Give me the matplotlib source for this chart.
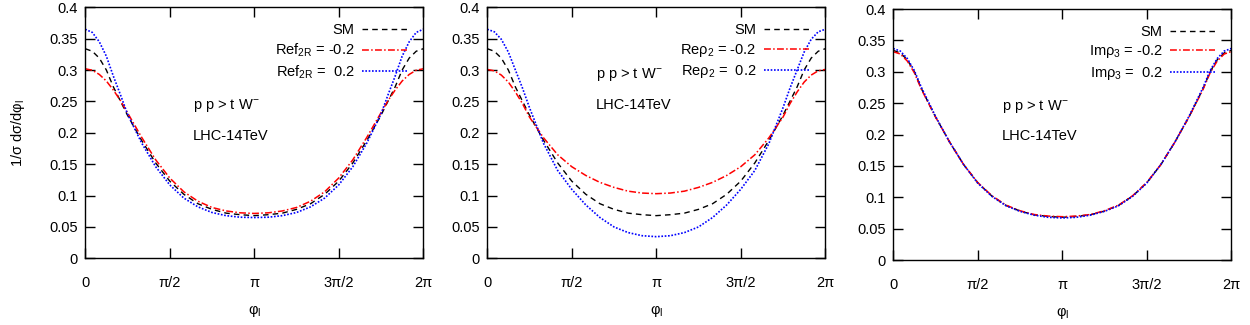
import matplotlib
matplotlib.use('Agg')
import matplotlib.pyplot as plt
import numpy as np

plt.rcParams['font.family'] = ['Liberation Sans', 'DejaVu Sans']
plt.rcParams['mathtext.fontset'] = 'custom'
plt.rcParams['mathtext.rm'] = 'Liberation Sans'
plt.rcParams['mathtext.it'] = 'Liberation Sans'
plt.rcParams['mathtext.sf'] = 'Liberation Sans'
plt.rcParams['mathtext.bf'] = 'Liberation Sans:bold'

FS = 10.5

# azimuthal angle of the lepton in units of pi/12 (finer near the edges)
phi_k = [0, 0.5, 1, 1.5, 2, 2.5, 3, 4, 5, 6, 7, 8, 9, 10, 11, 12,
         13, 14, 15, 16, 17, 18, 19, 20, 21, 21.5, 22, 22.5, 23, 23.5, 24]
phi = np.array(phi_k) * np.pi / 12

# SM curve (same in all three panels)
sm = [0.334, 0.330, 0.319, 0.300, 0.273, 0.2505, 0.228, 0.188, 0.152, 0.123, 0.102, 0.087, 0.078, 0.072, 0.0695, 0.068,
      0.0695, 0.072, 0.078, 0.087, 0.102, 0.123, 0.152, 0.188, 0.228, 0.2505, 0.273, 0.300, 0.319, 0.330, 0.334]

# panel 1: Ref_2R = -0.2 / 0.2
f2r_neg = [0.302, 0.2998, 0.293, 0.2825, 0.268, 0.2514, 0.232, 0.193, 0.157, 0.128, 0.106, 0.091, 0.081, 0.0755, 0.0725, 0.0715,
           0.0725, 0.0755, 0.081, 0.091, 0.106, 0.128, 0.157, 0.193, 0.232, 0.2514, 0.268, 0.2825, 0.293, 0.2998, 0.302]
f2r_pos = [0.365, 0.360, 0.345, 0.322, 0.290, 0.2606, 0.230, 0.184, 0.146, 0.117, 0.096, 0.082, 0.073, 0.068, 0.0655, 0.065,
           0.0655, 0.068, 0.073, 0.082, 0.096, 0.117, 0.146, 0.184, 0.230, 0.2606, 0.290, 0.322, 0.345, 0.360, 0.365]

# panel 2: Re rho_2 = -0.2 / 0.2
rho2_neg = [0.301, 0.2988, 0.292, 0.2808, 0.265, 0.2466, 0.225, 0.192, 0.165, 0.146, 0.132, 0.121, 0.113, 0.107, 0.104, 0.103,
            0.104, 0.107, 0.113, 0.121, 0.132, 0.146, 0.165, 0.192, 0.225, 0.2466, 0.265, 0.2808, 0.292, 0.2988, 0.301]
rho2_pos = [0.365, 0.361, 0.349, 0.3286, 0.300, 0.2714, 0.240, 0.183, 0.140, 0.110, 0.085, 0.065, 0.050, 0.041, 0.036, 0.0345,
            0.036, 0.041, 0.050, 0.065, 0.085, 0.110, 0.140, 0.183, 0.240, 0.2714, 0.300, 0.3286, 0.349, 0.361, 0.365]

# panel 3: Im rho_3 = -0.2 / 0.2
rho3_neg = [0.332, 0.3283, 0.317, 0.2983, 0.272, 0.2499, 0.228, 0.188, 0.152, 0.1235, 0.1025, 0.0875, 0.0785, 0.0725, 0.070, 0.069,
            0.070, 0.0725, 0.0785, 0.0875, 0.1025, 0.1235, 0.152, 0.188, 0.228, 0.2499, 0.272, 0.2983, 0.317, 0.3283, 0.332]
rho3_pos = [0.337, 0.333, 0.321, 0.3018, 0.275, 0.252, 0.229, 0.188, 0.152, 0.1225, 0.1015, 0.0865, 0.0775, 0.0715, 0.068, 0.067,
            0.068, 0.0715, 0.0775, 0.0865, 0.1015, 0.1225, 0.152, 0.188, 0.229, 0.252, 0.275, 0.3018, 0.321, 0.333, 0.337]

panel_labels = [('Ref$_{2R}$ = -0.2', 'Ref$_{2R}$ =  0.2'),
                ('Re\u03c1$_2$ = -0.2', 'Re\u03c1$_2$ =  0.2'),
                ('Im\u03c1$_3$ = -0.2', 'Im\u03c1$_3$ =  0.2')]
panel_data = [(f2r_neg, f2r_pos), (rho2_neg, rho2_pos), (rho3_neg, rho3_pos)]
text_pos = [(2.0, 0.243, 0.195), (2.015, 0.293, 0.245), (2.015, 0.244, 0.197)]

xticks = [0, np.pi / 2, np.pi, 3 * np.pi / 2, 2 * np.pi]
xtick_labels = ['0', '\u03c0/2', '\u03c0', '3\u03c0/2', '2\u03c0']
yticks = [0, 0.05, 0.1, 0.15, 0.2, 0.25, 0.3, 0.35, 0.4]
ytick_labels = ['0', '0.05', '0.1', '0.15', '0.2', '0.25', '0.3', '0.35', '0.4']

boxes = [(0.0682, 0.2052, 0.2704, 0.7723),
         (0.3898, 0.2052, 0.2704, 0.7723),
         (0.7146, 0.2000, 0.2704, 0.7723)]

fig = plt.figure(figsize=(12.5, 3.25), dpi=100)

for i, box in enumerate(boxes):
    ax = fig.add_axes(box)
    neg, pos = panel_data[i]
    lab_neg, lab_pos = panel_labels[i]
    ax.plot(phi, sm, color='black', lw=1.0, ls=(0, (4, 3)), label='SM')
    ax.plot(phi, neg, color='#ff0000', lw=1.1, ls=(0, (4.5, 1.5, 1, 1.5)), label=lab_neg)
    ax.plot(phi, pos, color='#0000ff', lw=1.2, ls=(0, (1, 1)), label=lab_pos)

    ax.set_xlim(0, 2 * np.pi)
    ax.set_ylim(0, 0.4)
    ax.set_xticks(xticks)
    ax.set_xticklabels(xtick_labels)
    ax.set_yticks(yticks)
    ax.set_yticklabels(ytick_labels)
    ax.tick_params(direction='in', top=True, right=True, length=7, width=1, labelsize=FS)
    ax.tick_params(axis='x', pad=13)
    ax.tick_params(axis='y', pad=5.5)
    for sp in ax.spines.values():
        sp.set_linewidth(1.0)

    ax.set_xlabel('\u03c6$_l$', fontsize=FS, labelpad=9)
    if i == 0:
        ax.set_ylabel('1/\u03c3 d\u03c3/d\u03c6$_l$', fontsize=FS, labelpad=16)

    tx, ty1, ty2 = text_pos[i]
    ax.text(tx, ty1, 'p p > t W$^{-}$', fontsize=FS, va='center')
    ax.text(tx, ty2, 'LHC-14TeV', fontsize=FS, va='center')

    ax.legend(loc='upper right', frameon=False, markerfirst=False, fontsize=FS,
              handlelength=3.1, handletextpad=0.5, labelspacing=0.3, borderaxespad=0.7)

fig.savefig('out.png', dpi=100)
